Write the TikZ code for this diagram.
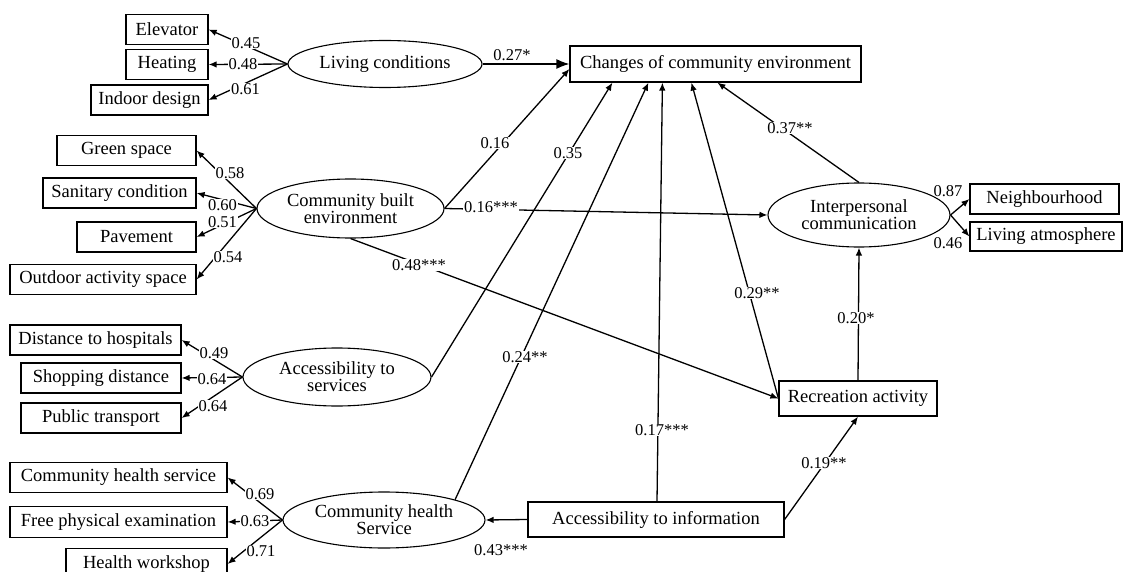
\documentclass[tikz,border=0pt]{standalone}
\usepackage{fontspec}
\setmainfont{Liberation Serif}
\usetikzlibrary{shapes.geometric,arrows.meta,calc}
\begin{document}
\begin{tikzpicture}[x=1pt,y=-1pt,
 box/.style={draw, line width=1.2pt, rectangle, inner sep=0pt, minimum height=30pt, font=\fontsize{18.5}{17}\selectfont},
 lat/.style={draw, line width=1.1pt, ellipse, inner sep=0pt, align=center, font=\fontsize{18.5}{17}\selectfont},
 arr/.style={line width=1.3pt, -{Latex[length=8pt,width=6.5pt]}},
 bigarr/.style={line width=1.3pt, -{Latex[length=13pt,width=10pt]}},
 lbl/.style={fill=white, inner sep=0.8pt, font=\fontsize{16.5}{18}\selectfont},
 lbn/.style={inner sep=0.8pt, font=\fontsize{16.5}{18}\selectfont}]
\useasboundingbox (0,0) rectangle (1126,572);

% observed boxes
\node[box, minimum width=82pt] (elev) at (167,29.5) {Elevator};
\node[box, minimum width=82pt] (heat) at (167,64.5) {Heating};
\node[box, minimum width=117pt] (indoor) at (149.5,100) {Indoor design};
\node[box, minimum width=139pt] (green) at (126.5,150.5) {Green space};
\node[box, minimum width=153pt] (sanit) at (119.5,193) {Sanitary condition};
\node[box, minimum width=119pt] (pave) at (136.5,237) {Pavement};
\node[box, minimum width=186pt] (outdoor) at (103,279.5) {Outdoor activity space};
\node[box, minimum width=171pt] (hosp) at (95.5,340) {Distance to hospitals};
\node[box, minimum width=160pt] (shop) at (101,378) {Shopping distance};
\node[box, minimum width=160pt] (transp) at (101,418) {Public transport};
\node[box, minimum width=217pt] (chsbox) at (118.5,477.5) {Community health service};
\node[box, minimum width=217pt, minimum height=31pt] (phys) at (118.5,522) {Free physical examination};
\node[box, minimum width=161pt, minimum height=31pt] (work) at (146.5,564) {Health workshop};
\node[box, minimum width=291pt, minimum height=36pt] (changes) at (715.5,64) {Changes of community environment};
\node[box, minimum width=149pt] (neigh) at (1044.5,199) {Neighbourhood};
\node[box, minimum width=152pt, minimum height=29pt] (atmos) at (1046,236.5) {Living atmosphere};
\node[box, minimum width=158pt, minimum height=35pt] (recr) at (858,398.5) {Recreation activity};
\node[box, minimum width=256pt, minimum height=35pt] (info) at (656,519.5) {Accessibility to information};

% latent variables
\node[lat, minimum width=194pt, minimum height=47pt] (living) at (385,64) {Living conditions};
\node[lat, minimum width=187pt, minimum height=59pt] (built) at (350.5,208.5) {Community built\\environment};
\node[lat, minimum width=188pt, minimum height=58pt] (serv) at (337,377) {Accessibility to\\services};
\node[lat, minimum width=202pt, minimum height=56pt] (health) at (384,520) {Community health\\Service};
\node[lat, minimum width=182pt, minimum height=64pt] (inter) at (859,215) {Interpersonal\\communication};

% indicator loadings
\draw[arr] (living.west) -- (elev.east) node[lbl] at (246,43) {0.45};
\draw[arr] (living.west) -- (heat.east) node[lbl] at (243,64) {0.48};
\draw[arr] (living.west) -- (indoor.east) node[lbl] at (245.5,89) {0.61};

\draw[arr] (built.west) -- (green.east) node[lbl] at (230,173) {0.58};
\draw[arr] (built.west) -- (sanit.east) node[lbl] at (222.5,205) {0.60};
\draw[arr] (built.west) -- (pave.east) node[lbl] at (222.5,222) {0.51};
\draw[arr] (built.west) -- (outdoor.east) node[lbl] at (228,257) {0.54};

\draw[arr] (serv.west) -- (hosp.east) node[lbl] at (214,353) {0.49};
\draw[arr] (serv.west) -- (shop.east) node[lbl] at (212,379) {0.64};
\draw[arr] (serv.west) -- (transp.east) node[lbl] at (213,406) {0.64};

\draw[arr] (health.west) -- (chsbox.east) node[lbl] at (260,494) {0.69};
\draw[arr] (health.west) -- (phys.east) node[lbl] at (255,521) {0.63};
\draw[arr] (health.west) -- (work.east) node[lbl] at (261,551) {0.71};

\draw[arr] (inter.east) -- (neigh.west) node[lbn] at (948,191) {0.87};
\draw[arr] (inter.east) -- (atmos.west) node[lbn] at (948,243) {0.46};

% structural paths
\draw[bigarr] (living.east) -- (changes.west) node[lbn] at (512,55) {0.27*};
\draw[arr] (built.east) -- ([yshift=-5pt]changes.west) node[lbl] at (495,143) {0.16};
\draw[arr] (serv.east) -- ([xshift=43pt]changes.south west) node[lbl] at (568,153) {0.35};
\draw[arr] (health.16) -- ([xshift=79pt]changes.south west) node[lbl] at (525,357) {0.24**};
\draw[arr] ([xshift=1pt]info.north) -- ([xshift=93pt]changes.south west) node[lbl] at (662,430) {0.17***};
\draw[arr] (recr.west) -- ([xshift=122pt]changes.south west) node[lbl] at (757,293) {0.29**};
\draw[arr] (inter.north) -- ([xshift=148pt]changes.south west) node[lbl] at (790,128) {0.37**};

\draw[arr] (built.east) -- (inter.west) node[lbl] at (491,207) {0.16***};
\draw[arr] (built.south) -- (recr.west) node[lbl] at (419,265) {0.48***};
\draw[arr] (recr.north) -- (inter.south) node[lbl] at (856,318) {0.20*};
\draw[arr] (info.east) -- (recr.south) node[lbl] at (824,463) {0.19**};
\draw[arr] (info.west) -- (health.east) node[lbn] at (501,550) {0.43***};
\end{tikzpicture}
\end{document}
